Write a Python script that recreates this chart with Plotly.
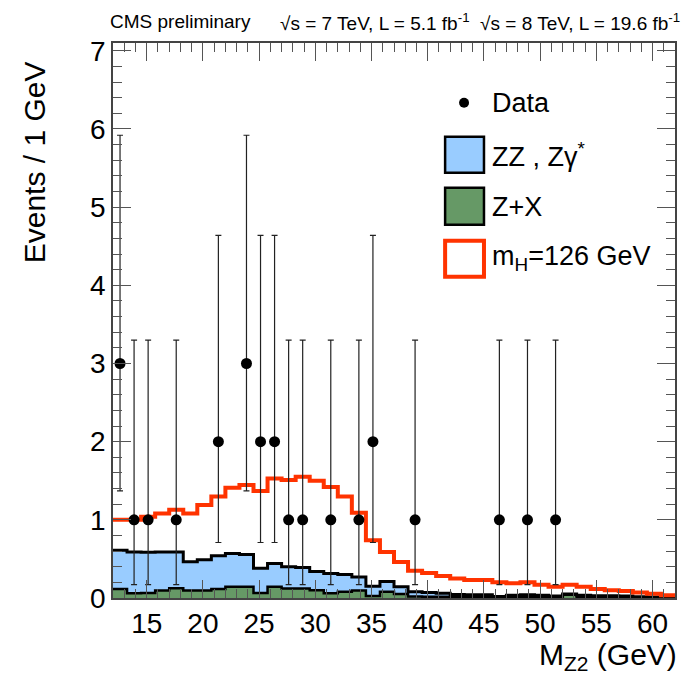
import numpy as np
import plotly.graph_objects as go

# ---------------- data ----------------
x_min = 12.0
bin_width = 1.25

# Z+X background per bin (40 bins, 12-62 GeV)
zx_bkg = [0.115, 0.06, 0.065, 0.095, 0.125, 0.095, 0.095, 0.115, 0.145, 0.145,
          0.065, 0.145, 0.12, 0.12, 0.10, 0.06, 0.08, 0.095, 0.025, 0.08,
          0.05, 0.02, 0.015, 0.015, 0.015, 0.01, 0.01, 0.005, 0.01, 0.01,
          0.01, 0.005, 0.04, 0.01, 0.005, 0.005, 0.005, 0.003, 0.002, 0.002]
# ZZ, Zgamma* background per bin
zz_bkg = [0.495, 0.53, 0.52, 0.495, 0.465, 0.37, 0.395, 0.425, 0.425, 0.41,
          0.315, 0.295, 0.28, 0.27, 0.24, 0.255, 0.22, 0.175, 0.125, 0.13,
          0.095, 0.06, 0.055, 0.045, 0.03, 0.03, 0.03, 0.015, 0.025, 0.03,
          0.025, 0.02, 0.01, 0.025, 0.025, 0.025, 0.02, 0.012, 0.01, 0.008]
# mH = 126 GeV signal per bin
signal = [0.39, 0.41, 0.455, 0.49, 0.54, 0.615, 0.70, 0.76, 0.84, 0.89,
          0.99, 1.09, 1.11, 1.16, 1.16, 1.105, 1.00, 0.82, 0.59, 0.38,
          0.315, 0.27, 0.25, 0.22, 0.205, 0.19, 0.19, 0.18, 0.155, 0.16,
          0.135, 0.12, 0.12, 0.11, 0.085, 0.07, 0.065, 0.055, 0.043, 0.025]

# observed data
data_x = [12.625, 13.875, 15.125, 17.625, 21.375, 23.875, 25.125, 26.375, 27.625,
          28.875, 31.375, 33.875, 35.125, 38.875, 46.375, 48.875, 51.375]
data_n = [3, 1, 1, 1, 2, 3, 2, 2, 1, 1, 1, 1, 2, 1, 1, 1, 1]
err_hi = [2.92, 2.30, 2.30, 2.30, 2.64, 2.92, 2.64, 2.64, 2.30, 2.30, 2.30, 2.30,
          2.64, 2.30, 2.30, 2.30, 2.30]
err_lo = [1.63, 0.83, 0.83, 0.83, 1.29, 1.63, 1.29, 1.29, 0.83, 0.83, 0.83, 0.83,
          1.29, 0.83, 0.83, 0.83, 0.83]

x_ticks = [15, 20, 25, 30, 35, 40, 45, 50, 55, 60]
y_ticks = [0, 1, 2, 3, 4, 5, 6, 7]

# ---------------- figure ----------------
edges = x_min + bin_width * np.arange(len(zx_bkg) + 1)


def step(v):
    return list(v) + [v[-1]]


FONT = "Liberation Sans, Arial, sans-serif"

fig = go.Figure()
fig.add_trace(go.Scatter(x=edges, y=step(zx_bkg), stackgroup="bkg", mode="lines",
                         line=dict(shape="hv", color="black", width=2.5),
                         fillcolor="#669966", hoverinfo="skip"))
fig.add_trace(go.Scatter(x=edges, y=step(zz_bkg), stackgroup="bkg", mode="lines",
                         line=dict(shape="hv", color="black", width=3),
                         fillcolor="#99ccff", hoverinfo="skip"))
fig.add_trace(go.Scatter(x=edges, y=step(signal), stackgroup="bkg", mode="lines",
                         fill="none",
                         line=dict(shape="hv", color="#ff3300", width=4),
                         hoverinfo="skip"))
fig.add_trace(go.Scatter(x=data_x, y=data_n, mode="markers",
                         marker=dict(color="black", size=11),
                         error_y=dict(type="data", symmetric=False, array=err_hi,
                                      arrayminus=err_lo, color="#222222",
                                      thickness=1.2, width=3)))

axis_common = dict(
    showline=True, linecolor="#444444", linewidth=1.5, mirror="allticks",
    ticks="inside", tickcolor="#555555", ticklen=18, tickwidth=1.2,
    showgrid=False, zeroline=False,
    tickfont=dict(family=FONT, size=28, color="black"),
)

fig.update_xaxes(range=[12, 62], tickvals=x_ticks,
                 minor=dict(ticks="inside", ticklen=9, dtick=1, tick0=0,
                            tickcolor="#555555", tickwidth=1.2),
                 **axis_common)
fig.update_yaxes(range=[0, 7.1], tickvals=y_ticks,
                 minor=dict(ticks="inside", ticklen=9, dtick=0.2, tick0=0,
                            tickcolor="#555555", tickwidth=1.2),
                 **axis_common)


def px_x(px):
    return (px - 112.7) / 564.0


def px_y(py):
    return (598.3 - py) / 555.0


shapes = [
    dict(type="rect", xref="paper", yref="paper", x0=px_x(446), x1=px_x(485),
         y0=px_y(173), y1=px_y(137), fillcolor="#99ccff",
         line=dict(color="black", width=2.5)),
    dict(type="rect", xref="paper", yref="paper", x0=px_x(446), x1=px_x(485),
         y0=px_y(225), y1=px_y(188), fillcolor="#669966",
         line=dict(color="black", width=2.5)),
    dict(type="rect", xref="paper", yref="paper", x0=px_x(446), x1=px_x(485),
         y0=px_y(277), y1=px_y(241), fillcolor="white",
         line=dict(color="#ff3300", width=4)),
    dict(type="circle", xref="paper", yref="paper", x0=px_x(460), x1=px_x(470),
         y0=px_y(108), y1=px_y(98), fillcolor="black",
         line=dict(color="black", width=0)),
]

leg_font = dict(family=FONT, size=27, color="black")
annotations = [
    dict(text="Data", x=px_x(491), y=px_y(103)),
    dict(text="ZZ , Zγ<sup>*</sup>", x=px_x(491), y=px_y(155)),
    dict(text="Z+X", x=px_x(491), y=px_y(207)),
    dict(text="m<sub>H</sub>=126 GeV", x=px_x(491), y=px_y(258)),
]
for a in annotations:
    a.update(xref="paper", yref="paper", xanchor="left", yanchor="middle",
             showarrow=False, font=leg_font)

annotations += [
    dict(text="CMS preliminary", x=px_x(108), y=px_y(22), xref="paper", yref="paper",
         xanchor="left", yanchor="middle", showarrow=False,
         font=dict(family=FONT, size=19, color="black")),
    dict(text="√s = 7 TeV, L = 5.1 fb<sup>-1</sup>  √s = 8 TeV, L = 19.6 fb<sup>-1</sup>",
         x=px_x(278), y=px_y(22), xref="paper", yref="paper",
         xanchor="left", yanchor="middle", showarrow=False,
         font=dict(family=FONT, size=19, color="black")),
    dict(text="Events / 1 GeV", x=px_x(34), y=px_y(163), xref="paper", yref="paper",
         xanchor="center", yanchor="middle", textangle=-90, showarrow=False,
         font=dict(family=FONT, size=30, color="black")),
    dict(text="M<sub>Z2</sub> (GeV)", x=px_x(681), y=px_y(657), xref="paper",
         yref="paper", xanchor="right", yanchor="middle", showarrow=False,
         font=dict(family=FONT, size=30, color="black")),
]

fig.update_layout(
    width=681, height=675,
    margin=dict(l=113, r=4, t=43, b=77),
    paper_bgcolor="white", plot_bgcolor="white",
    showlegend=False,
    shapes=shapes, annotations=annotations,
)

fig.write_html("out.html")
